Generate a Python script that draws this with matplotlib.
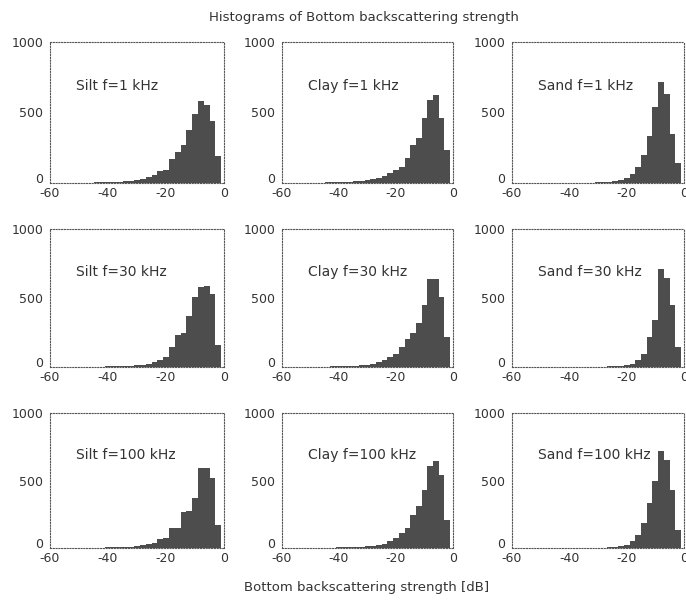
import numpy as np
import matplotlib
matplotlib.use("Agg")
import matplotlib.pyplot as plt

# bin centres in dB (2 dB wide bins), -60 ... -2
centers = np.arange(-60, -1, 2)

silt_1 = [0, 1, 1, 1, 2, 2, 3, 3, 4, 5, 6, 8, 10, 12, 16, 22, 30, 45, 57, 85,
          92, 168, 222, 270, 375, 490, 585, 550, 440, 190]
clay_1 = [0, 1, 1, 1, 2, 2, 3, 3, 4, 5, 6, 8, 10, 12, 15, 20, 25, 35, 50, 70,
          92, 116, 175, 270, 317, 460, 590, 625, 460, 235]
sand_1 = [0, 0, 0, 0, 0, 0, 0, 0, 0, 1, 1, 1, 2, 2, 3, 4, 5, 8, 12, 20,
          35, 65, 115, 200, 330, 540, 715, 630, 350, 140]

silt_30 = [0, 0, 0, 0, 1, 1, 1, 2, 2, 3, 4, 5, 6, 8, 10, 12, 15, 22, 35, 50,
           75, 145, 230, 250, 370, 510, 580, 585, 530, 160]
clay_30 = [0, 0, 0, 1, 1, 1, 2, 2, 3, 4, 5, 6, 8, 10, 14, 18, 25, 36, 50, 73,
           97, 146, 200, 243, 316, 450, 640, 640, 505, 220]
sand_30 = [0, 0, 0, 0, 0, 0, 0, 0, 0, 0, 0, 0, 0, 1, 1, 2, 3, 4, 6, 10,
           15, 25, 49, 97, 218, 340, 709, 643, 449, 146]

silt_100 = [0, 0, 0, 0, 0, 1, 1, 2, 2, 3, 4, 5, 6, 8, 10, 15, 20, 30, 40, 70,
            75, 145, 150, 270, 275, 370, 590, 590, 520, 170]
clay_100 = [0, 0, 0, 0, 0, 1, 1, 2, 2, 3, 4, 5, 6, 8, 10, 12, 18, 25, 32, 49,
            74, 111, 148, 247, 309, 432, 605, 642, 543, 210]
sand_100 = [0, 0, 0, 0, 0, 0, 0, 0, 0, 0, 0, 0, 0, 1, 1, 2, 3, 5, 8, 12,
            25, 50, 100, 185, 330, 500, 715, 650, 430, 136]

soils = ["Silt", "Clay", "Sand"]
freqs = ["1 kHz", "30 kHz", "100 kHz"]
counts = [[silt_1, clay_1, sand_1],
          [silt_30, clay_30, sand_30],
          [silt_100, clay_100, sand_100]]

xticks = [-60, -40, -20, 0]
yticks = [0, 500, 1000]

plt.rcParams['font.family'] = ['DejaVu Sans']
plt.rcParams['font.size'] = 9
plt.rcParams['axes.unicode_minus'] = False
plt.rcParams['text.color'] = '#333333'
plt.rcParams['xtick.color'] = '#333333'
plt.rcParams['ytick.color'] = '#333333'

W, H = 686, 601
fig = plt.figure(figsize=(W / 100, H / 100), dpi=100)

# axes boxes in pixels: (left, right) per column, (top, bottom) per row
cols = [(50, 224), (282, 453), (512, 684)]
rows = [(42, 183), (229, 367), (413, 548)]

for i, (top, bot) in enumerate(rows):
    for j, (left, right) in enumerate(cols):
        ax = fig.add_axes([left / W, 1 - bot / H, (right - left) / W, (bot - top) / H])
        ax.bar(centers, counts[i][j], width=2.0, color='#4d4d4d', edgecolor='none')
        ax.set_xlim(-60, 0)
        ax.set_ylim(0, 1000)
        ax.set_xticks(xticks)
        ax.set_yticks(yticks)
        ax.tick_params(length=0, labelsize=9)
        ax.tick_params(axis='y', pad=5)
        ax.tick_params(axis='x', pad=3)
        # the "0" on the y axis sits a little above the x labels, as in the original
        ax.yaxis.get_major_ticks()[0].label1.set_verticalalignment('baseline')
        for sp in ax.spines.values():
            sp.set_linestyle((0, (1, 1.5)))
            sp.set_color('#555555')
            sp.set_linewidth(0.8)
        ax.text(-51, 690, f"{soils[j]} f={freqs[i]}", ha='left', va='center', fontsize=10)

fig.text(364 / W, 1 - 17 / H, "Histograms of Bottom backscattering strength",
         ha='center', va='center', fontsize=9.5)
fig.text(367 / W, 1 - 587 / H, "Bottom backscattering strength [dB]",
         ha='center', va='center', fontsize=9.5)

fig.savefig("out.png", dpi=100, facecolor='white')
